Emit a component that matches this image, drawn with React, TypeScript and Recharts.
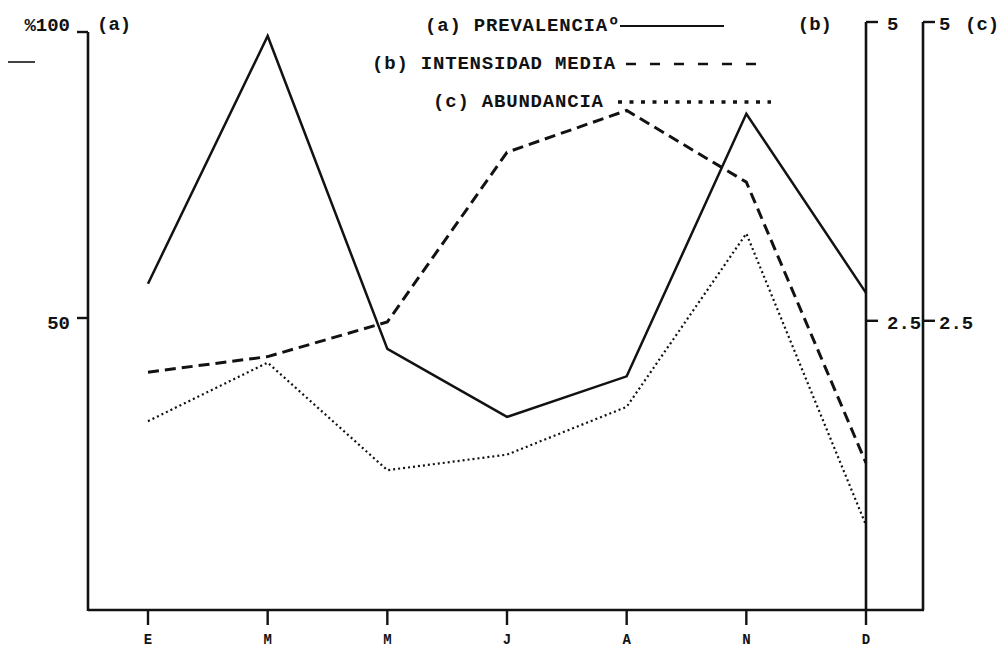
import React from 'react';
import { LineChart, Line, XAxis, YAxis, Legend } from 'recharts';

const months = ['E', 'M', 'M', 'J', 'A', 'N', 'D'];
const prevalencia = [56, 99.3, 44.6, 32.7, 39.8, 85.7, 54.4];
const intensidad = [2.07, 2.2, 2.49, 3.91, 4.26, 3.66, 1.31];
const abundancia = [1.66, 2.15, 1.25, 1.38, 1.78, 3.23, 0.79];
const leftTicks = [50, 100];
const rightTicks = [2.5, 5];
const seriesNames = ['(a) PREVALENCIAº', '(b) INTENSIDAD MEDIA', '(c) ABUNDANCIA'];

const LEFT_DOMAIN: [number, number] = [-1.05, 101.75];
const RIGHT_DOMAIN: [number, number] = [0.08, 5];

const data = months.map((m, i) => ({
  month: m,
  a: prevalencia[i],
  b: intensidad[i],
  c: abundancia[i],
}));

const INK = '#121212';
const FONT = '"Liberation Mono", "DejaVu Sans Mono", monospace';
const tickFont = { fontFamily: FONT, fontSize: 19, fontWeight: 700, fill: INK };

const LeftTick = (props: any) => {
  const { x, y, payload } = props;
  const v = payload.value;
  const label = v === 100 ? '%100' : String(v);
  const dy = v === 100 ? -6 : 6;
  return (
    <text x={x} y={y + dy} textAnchor="end" dominantBaseline="central" style={tickFont}>
      {label}
    </text>
  );
};

const RightTick = (props: any) => {
  const { x, y, payload } = props;
  return (
    <text x={x} y={y + 3} textAnchor="start" dominantBaseline="central" style={tickFont}>
      {String(payload.value)}
    </text>
  );
};

const LeftDeco = (props: any) => {
  const vb = props.viewBox || {};
  const { x, y, width, height } = vb;
  if (x == null) return null;
  const ax = x + width;
  const y100 = y + (height * (LEFT_DOMAIN[1] - 100)) / (LEFT_DOMAIN[1] - LEFT_DOMAIN[0]);
  return (
    <g>
      <line x1={ax} x2={ax} y1={y100} y2={y + height + 1} stroke={INK} strokeWidth={2.6} />
      <text x={ax + 9} y={y + 3} dominantBaseline="central" style={tickFont}>(a)</text>
      <line x1={x + 8} x2={x + 35} y1={62} y2={62} stroke={INK} strokeWidth={1.6} />
    </g>
  );
};

const BDeco = (props: any) => {
  const vb = props.viewBox || {};
  const { x, y, width, height } = vb;
  if (x == null) return null;
  return (
    <g>
      <line x1={x - 1} x2={x + width + 1} y1={y + height} y2={y + height} stroke={INK} strokeWidth={2.6} />
      <text x={x - 34} y={y + 3} textAnchor="end" dominantBaseline="central" style={tickFont}>(b)</text>
    </g>
  );
};

const CDeco = (props: any) => {
  const vb = props.viewBox || {};
  const { x, y } = vb;
  if (x == null) return null;
  return (
    <text x={x + 42} y={y + 3} textAnchor="start" dominantBaseline="central" style={tickFont}>(c)</text>
  );
};

const legendRowStyle = [
  { indent: 55, gap: 0, len: 104, dash: undefined as string | undefined, w: 2 },
  { indent: 2, gap: 10, len: 135, dash: '10 14', w: 2.5 },
  { indent: 63, gap: 14, len: 153, dash: '4 7.5', w: 3.5 },
];

const LegendContent = (props: any) => {
  const payload = props.payload || [];
  return (
    <div style={{ fontFamily: FONT }}>
      {payload.map((entry: any, i: number) => {
        const st = legendRowStyle[i] || legendRowStyle[0];
        return (
          <div
            key={i}
            style={{
              display: 'flex',
              alignItems: 'center',
              height: 38,
              paddingLeft: st.indent,
              whiteSpace: 'nowrap',
            }}
          >
            <span
              style={{
                fontSize: 19,
                fontWeight: 700,
                letterSpacing: 0.8,
                color: INK,
                lineHeight: '38px',
              }}
            >
              {entry.value}
            </span>
            <svg width={st.len} height={8} style={{ marginLeft: st.gap, display: 'block' }}>
              <line
                x1={0}
                x2={st.len}
                y1={4}
                y2={4}
                stroke={INK}
                strokeWidth={st.w}
                strokeDasharray={st.dash}
              />
            </svg>
          </div>
        );
      })}
    </div>
  );
};

export default function App() {
  return (
    <div style={{ position: 'absolute', left: 0, top: 0, background: '#fff' }}>
      <LineChart
        width={1008}
        height={653}
        data={data}
        margin={{ top: 22, right: 0, bottom: 0, left: 0 }}
        style={{ background: '#fff' }}
      >
        <XAxis
          dataKey="month"
          padding={{ left: 60, right: 0 }}
          height={43}
          tickSize={15}
          tickMargin={9}
          axisLine={{ stroke: INK, strokeWidth: 2.6 }}
          tickLine={{ stroke: INK, strokeWidth: 2.4 }}
          tick={{ fill: INK, fontSize: 14, fontWeight: 700, fontFamily: FONT }}
          allowDuplicatedCategory={true}
        />
        <YAxis
          yAxisId="a"
          orientation="left"
          width={88}
          type="number"
          domain={LEFT_DOMAIN}
          ticks={leftTicks}
          axisLine={false}
          tickSize={11}
          tickMargin={7}
          tickLine={{ stroke: INK, strokeWidth: 2.4 }}
          tick={<LeftTick />}
          label={<LeftDeco />}
        />
        <YAxis
          yAxisId="b"
          orientation="right"
          width={57}
          type="number"
          domain={RIGHT_DOMAIN}
          ticks={rightTicks}
          axisLine={{ stroke: INK, strokeWidth: 2.6 }}
          tickSize={12}
          tickMargin={9}
          tickLine={{ stroke: INK, strokeWidth: 2.4 }}
          tick={<RightTick />}
          label={<BDeco />}
        />
        <YAxis
          yAxisId="c"
          orientation="right"
          width={85}
          type="number"
          domain={RIGHT_DOMAIN}
          ticks={rightTicks}
          axisLine={{ stroke: INK, strokeWidth: 2.6 }}
          tickSize={12}
          tickMargin={4}
          tickLine={{ stroke: INK, strokeWidth: 2.4 }}
          tick={<RightTick />}
          label={<CDeco />}
        />
        <Legend
          layout="horizontal"
          verticalAlign="middle"
          align="center"
          content={<LegendContent />}
          wrapperStyle={{ position: 'absolute', top: 7, left: 370, width: 460 }}
        />
        <Line
          yAxisId="a"
          dataKey="a"
          name={seriesNames[0]}
          stroke={INK}
          strokeWidth={2.5}
          dot={false}
          activeDot={false}
          isAnimationActive={false}
        />
        <Line
          yAxisId="b"
          dataKey="b"
          name={seriesNames[1]}
          stroke={INK}
          strokeWidth={3}
          strokeDasharray="11 6"
          dot={false}
          activeDot={false}
          isAnimationActive={false}
        />
        <Line
          yAxisId="c"
          dataKey="c"
          name={seriesNames[2]}
          stroke={INK}
          strokeWidth={2.2}
          strokeDasharray="2 3"
          dot={false}
          activeDot={false}
          isAnimationActive={false}
        />
      </LineChart>
    </div>
  );
}
